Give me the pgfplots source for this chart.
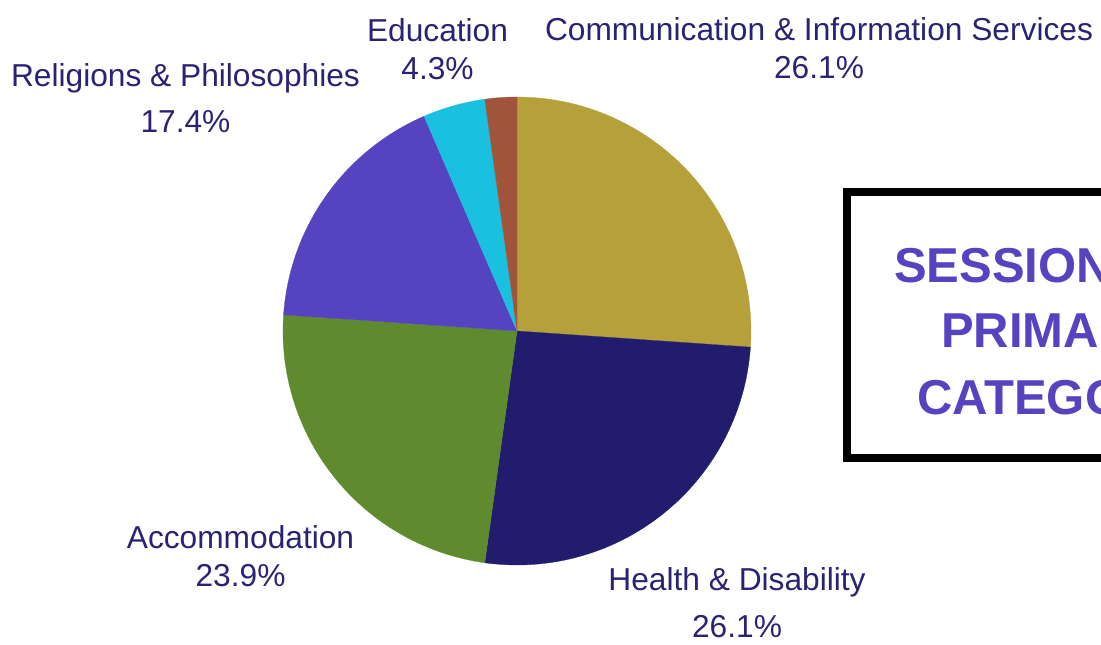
\documentclass[border=0pt]{standalone}
\usepackage{pgfplots}
\pgfplotsset{compat=1.18}
\usepackage{fontspec}
\setmainfont{Liberation Sans}
\definecolor{cComm}{RGB}{181,160,58}
\definecolor{cHealth}{RGB}{34,28,110}
\definecolor{cAcc}{RGB}{95,138,46}
\definecolor{cRel}{RGB}{85,67,192}
\definecolor{cEdu}{RGB}{25,192,224}
\definecolor{cOther}{RGB}{160,85,58}
\definecolor{lbl}{RGB}{42,34,114}
% shares in percent, clockwise from 12 o'clock
\def\pA{26.1}% Communication & Information Services
\def\pB{26.1}% Health & Disability
\def\pC{23.9}% Accommodation
\def\pD{17.4}% Religions & Philosophies
\def\pE{4.3}%  Education
\def\pF{2.2}%  (unlabelled)
\begin{document}
\begin{tikzpicture}
\useasboundingbox (0,0) rectangle (1101bp,645bp);
\pgfmathsetmacro{\aA}{90-3.6*\pA}
\pgfmathsetmacro{\aB}{\aA-3.6*\pB}
\pgfmathsetmacro{\aC}{\aB-3.6*\pC}
\pgfmathsetmacro{\aD}{\aC-3.6*\pD}
\pgfmathsetmacro{\aE}{\aD-3.6*\pE}
\pgfmathsetmacro{\aF}{\aE-3.6*\pF}
\begin{axis}[at={(0,0)}, anchor=south west, width=1101bp, height=645bp,
  scale only axis, xmin=0, xmax=1101, ymin=0, ymax=645, hide axis, clip=true]
\addplot[fill=cComm, draw=cComm, line width=0.3bp, domain=\aA:90, samples=90, variable=\t] ({517+234*cos(\t)},{314+234*sin(\t)}) -- (axis cs:517,314) -- cycle;
\addplot[fill=cHealth, draw=cHealth, line width=0.3bp, domain=\aB:\aA, samples=90, variable=\t] ({517+234*cos(\t)},{314+234*sin(\t)}) -- (axis cs:517,314) -- cycle;
\addplot[fill=cAcc, draw=cAcc, line width=0.3bp, domain=\aC:\aB, samples=90, variable=\t] ({517+234*cos(\t)},{314+234*sin(\t)}) -- (axis cs:517,314) -- cycle;
\addplot[fill=cRel, draw=cRel, line width=0.3bp, domain=\aD:\aC, samples=70, variable=\t] ({517+234*cos(\t)},{314+234*sin(\t)}) -- (axis cs:517,314) -- cycle;
\addplot[fill=cEdu, draw=cEdu, line width=0.3bp, domain=\aE:\aD, samples=20, variable=\t] ({517+234*cos(\t)},{314+234*sin(\t)}) -- (axis cs:517,314) -- cycle;
\addplot[fill=cOther, draw=cOther, line width=0.3bp, domain=\aF:\aE, samples=12, variable=\t] ({517+234*cos(\t)},{314+234*sin(\t)}) -- (axis cs:517,314) -- cycle;
% labels
\tikzset{lab/.style={anchor=base, text=lbl, inner sep=0pt, font=\fontsize{31.7bp}{38bp}\selectfont}}
\node[lab] at (axis cs:819,604) {Communication \& Information Services};
\node[lab] at (axis cs:819,566) {26.1\%};
\node[lab] at (axis cs:437.5,603) {Education};
\node[lab] at (axis cs:437.5,565) {4.3\%};
\node[lab] at (axis cs:185.5,558) {Religions \& Philosophies};
\node[lab] at (axis cs:185.5,512) {17.4\%};
\node[lab] at (axis cs:240.5,96) {Accommodation};
\node[lab] at (axis cs:240.5,58.5) {23.9\%};
\node[lab] at (axis cs:737,54) {Health \& Disability};
\node[lab] at (axis cs:737,7.5) {26.1\%};
% title box
\draw[black, line width=8bp] (axis cs:847,453) rectangle (axis cs:1400,187);
\tikzset{ttl/.style={anchor=base west, text=cRel, inner sep=0pt, font=\fontsize{49bp}{58bp}\selectfont\bfseries}}
\node[ttl] at (axis cs:894,362) {SESSIONS BY};
\node[ttl] at (axis cs:941,297) {PRIMARY};
\node[ttl] at (axis cs:917,230) {CATEGORY};
\end{axis}
\end{tikzpicture}
\end{document}
